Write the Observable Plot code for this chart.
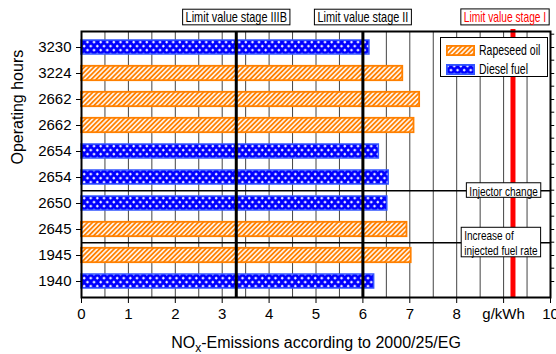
<!DOCTYPE html>
<html><head><meta charset="utf-8">
<script src="https://cdn.jsdelivr.net/npm/d3@7"></script>
<script src="https://cdn.jsdelivr.net/npm/@observablehq/plot@0.6"></script>
<style>
body{margin:0;background:#fff;}
#wrap{position:relative;width:556px;height:354px;overflow:hidden;}
#legend{position:absolute;left:440px;top:37px;width:108px;height:40px;box-sizing:border-box;border:1px solid #000;background:#fff;font-family:"Liberation Sans",Arial,sans-serif;font-size:14px;color:#000;}
#legend .row{position:absolute;left:5px;height:12px;display:flex;align-items:center;white-space:nowrap;}
#legend svg{display:block;margin-right:4px;flex:none;}
#legend span{display:inline-block;transform:scaleX(0.75);transform-origin:left center;}
</style></head>
<body><div id="wrap"></div>
<script>
// ---- data ----
const hours = ["3230","3224","2662","2662","2654","2654","2650","2645","1945","1940"];
const fuels = ["Diesel fuel","Rapeseed oil","Rapeseed oil","Rapeseed oil","Diesel fuel","Diesel fuel","Diesel fuel","Rapeseed oil","Rapeseed oil","Diesel fuel"];
const nox = [6.14,6.85,7.21,7.09,6.34,6.55,6.52,6.94,7.03,6.24];
const seriesNames = ["Rapeseed oil","Diesel fuel"];
const limitValues = [3.3, 6, 9.2];
const limitLabels = ["Limit value stage IIIB","Limit value stage II","Limit value stage I"];
const limitLabelX = [3.3, 6, 9.03];
const eventLabels = ["Injector change","Increase of\ninjected fuel rate"];
const eventAfterRow = [5, 7];
const eventLabelX = [8.27, 8.16];
const xTicks = [0,1,2,3,4,5,6,7,8,9,10];
const xTickLabels = ["0","1","2","3","4","5","6","7","8","g/kWh","10"];
const xTitleParts = ["NO","x","-Emissions according to 2000/25/EG"];
const yTitle = "Operating hours";

// ---- build ----
const W = 556, H = 354, mL = 81, mR = 6, mT = 31, mB = 57;
const step = (H - mT - mB) / hours.length;
const ids = hours.map((_, i) => i);
const rows = ids.map(i => ({id: i, hours: hours[i], fuel: fuels[i], nox: nox[i]}));
const limits = limitValues.map((v, i) => ({v, label: limitLabels[i], lx: limitLabelX[i]}));
const events = eventLabels.map((l, i) => ({label: l, row: eventAfterRow[i], lx: eventLabelX[i]}));
const orange = "#ff8000", blue = "#0000ff", blueEdge = "#3355ff";

const chart = Plot.plot({
  width: W, height: H,
  marginLeft: mL, marginRight: mR, marginTop: mT, marginBottom: mB,
  style: {fontFamily: "Liberation Sans, Arial, sans-serif", fontSize: "15px", background: "#fff", color: "#000"},
  x: {domain: [0, 10]},
  y: {type: "band", domain: ids, padding: 0},
  marks: [
    Plot.gridX({ticks: d3.range(0, 10.01, 0.5), stroke: "#444", strokeOpacity: 1, strokeWidth: 1}),
    Plot.ruleY(events, {y: "row", dy: step / 2, stroke: "#000", strokeWidth: 1.5}),
    Plot.barX(rows.filter(d => d.fuel === seriesNames[0]), {x: "nox", y: "id", fill: "url(#hatch)", stroke: orange, strokeWidth: 1.8, insetTop: 5.8, insetBottom: 5.8}),
    Plot.barX(rows.filter(d => d.fuel === seriesNames[1]), {x: "nox", y: "id", fill: "url(#dots)", stroke: blueEdge, strokeWidth: 1.5, insetTop: 6, insetBottom: 6}),
    Plot.ruleX(limits.slice(0, 2), {x: "v", stroke: "#000", strokeWidth: 3}),
    Plot.ruleX(limits.slice(2), {x: "v", stroke: "#ff0000", strokeWidth: 5, insetTop: -2}),
    Plot.text(limits.slice(0, 2), {x: "lx", text: "label", frameAnchor: "top", dy: -14, lineAnchor: "middle", fontSize: 14, fill: "#000"}),
    Plot.text(limits.slice(2), {x: "lx", text: "label", frameAnchor: "top", dy: -14, lineAnchor: "middle", fontSize: 14, fill: "#ff0000"}),
    Plot.text(events, {x: "lx", y: "row", dy: step / 2, text: "label", textAnchor: "start", lineAnchor: "middle", lineHeight: 1.15, fontSize: 13, fill: "#000"}),
    Plot.ruleY(ids, {y: d => d, x1: 10, x2: 10.09, stroke: "#000", strokeWidth: 1}),
    Plot.ruleY(ids, {y: d => d, x1: 10, x2: 10.09, dy: -step / 2, stroke: "#000", strokeWidth: 1}),
    Plot.axisX({ticks: xTicks, tickFormat: d => xTickLabels[xTicks.indexOf(d)], tickSize: 6, tickPadding: 5, label: null, fontSize: 15}),
    Plot.axisY({tickFormat: i => hours[i], tickSize: 5, tickPadding: 5, label: null, fontSize: 15}),
    Plot.text([yTitle], {text: d => d, frameAnchor: "left", dx: -64, rotate: -90, lineAnchor: "middle", fontSize: 16}),
    Plot.text([xTitleParts.join("")], {text: d => d, frameAnchor: "bottom", dy: 45, lineAnchor: "middle", fontSize: 16}),
    Plot.frame({stroke: "#000", strokeWidth: 2})
  ]
});

const wrap = document.getElementById("wrap");
wrap.append(chart);
const ns = "http://www.w3.org/2000/svg";
const svg = chart.tagName.toLowerCase() === "svg" ? chart : chart.querySelector("svg");
const defs = document.createElementNS(ns, "defs");
defs.innerHTML = `
<pattern id="hatch" patternUnits="userSpaceOnUse" width="3.4" height="3.4" patternTransform="rotate(45)">
  <rect width="3.4" height="3.4" fill="#fff"/>
  <line x1="1.7" y1="0" x2="1.7" y2="3.4" stroke="${orange}" stroke-width="1.9"/>
</pattern>
<pattern id="dots" patternUnits="userSpaceOnUse" width="6.6" height="8">
  <rect width="6.6" height="8" fill="${blue}"/>
  <path d="M1.65 0.8v2.6M0.35 2.1h2.6M4.95 4.8v2.6M3.65 6.1h2.6" stroke="#fff" stroke-width="1.1"/>
</pattern>`;
svg.prepend(defs);

// condensed boxed labels
const narrowScale = new Map([
  [limitLabels[0], 0.78], [limitLabels[1], 0.78], [limitLabels[2], 0.73],
  ...eventLabels.map(l => [l.replace(/\n/g, ""), 0.77])
]);
const svgBox = svg.getBoundingClientRect();
svg.querySelectorAll("text").forEach(t => {
  const s = narrowScale.get(t.textContent);
  if (s === undefined) return;
  const tr = t.getAttribute("transform") || "";
  t.setAttribute("transform", tr + ` scale(${s},1)`);
  const bb = t.getBoundingClientRect();
  const r = document.createElementNS(ns, "rect");
  r.setAttribute("x", bb.left - svgBox.left - 3);
  r.setAttribute("y", bb.top - svgBox.top - 0.5);
  r.setAttribute("width", bb.width + 6);
  r.setAttribute("height", bb.height);
  r.setAttribute("fill", "#fff");
  r.setAttribute("stroke", "#000");
  r.setAttribute("stroke-width", "1");
  const g = t.parentNode;
  g.parentNode.insertBefore(r, g);
});

// subscript in x title
svg.querySelectorAll("text").forEach(t => {
  if (t.textContent !== xTitleParts.join("")) return;
  t.textContent = "";
  const a = document.createElementNS(ns, "tspan"); a.textContent = xTitleParts[0];
  const b = document.createElementNS(ns, "tspan"); b.textContent = xTitleParts[1];
  b.setAttribute("dy", "4.5"); b.setAttribute("font-size", "12");
  const c = document.createElementNS(ns, "tspan"); c.textContent = xTitleParts[2];
  c.setAttribute("dy", "-4.5");
  t.append(a, b, c);
});

// legend
const legend = document.createElement("div");
legend.id = "legend";
const fillsL = ["url(#hatch)", "url(#dots)"], strokesL = [orange, blueEdge];
seriesNames.forEach((name, i) => {
  const row = document.createElement("div");
  row.className = "row";
  row.style.top = (6 + i * 19) + "px";
  row.innerHTML = `<svg width="29" height="11"><rect x="0.9" y="0.9" width="27.2" height="9.2" fill="${fillsL[i]}" stroke="${strokesL[i]}" stroke-width="1.8"/></svg><span>${name}</span>`;
  legend.append(row);
});
wrap.append(legend);
</script>
</body></html>
